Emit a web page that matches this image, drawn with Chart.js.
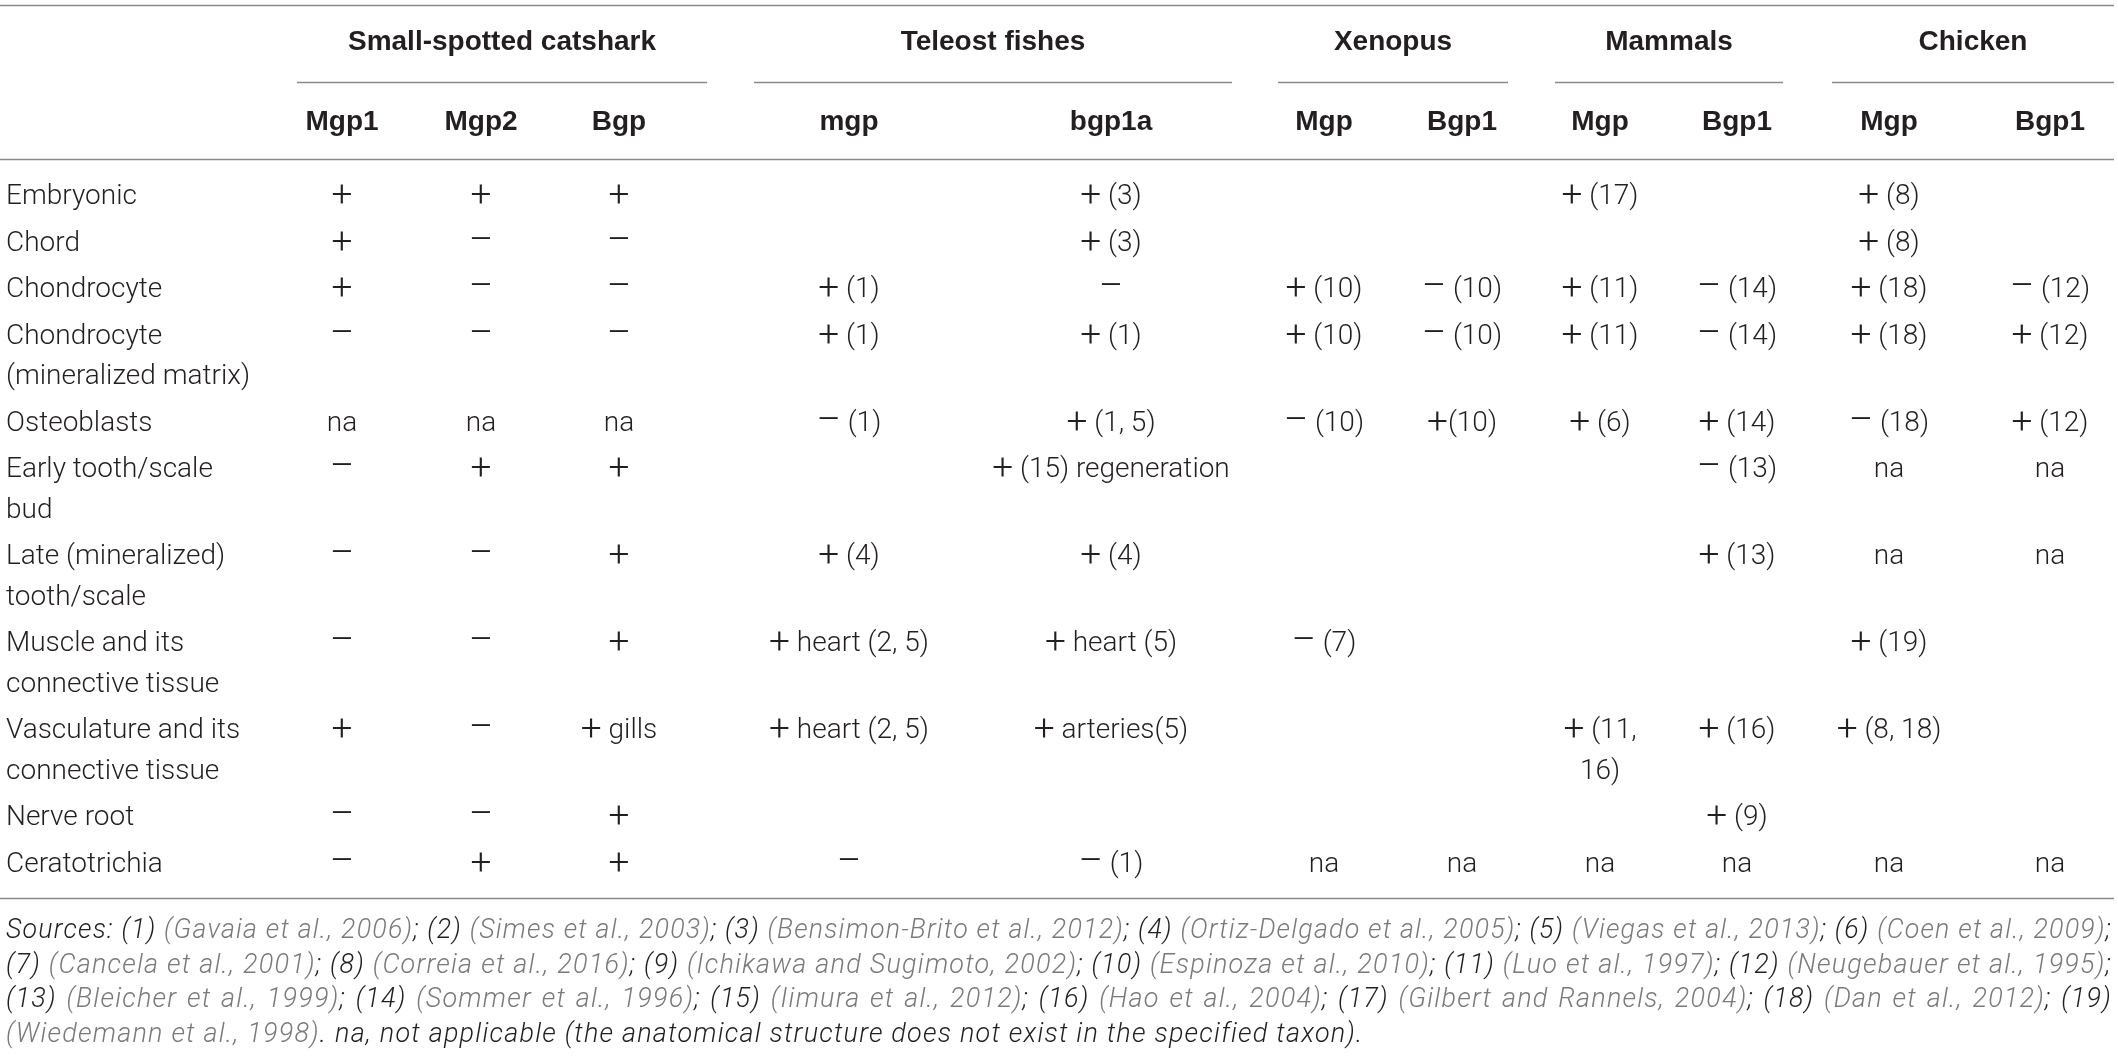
<!DOCTYPE html>
<html>
<head>
<meta charset="utf-8">
<script src="https://cdn.jsdelivr.net/npm/chart.js@4.4.1/dist/chart.umd.min.js"></script>
<style>
  html, body { margin: 0; padding: 0; background: #fff; }
  #wrap { width: 2118px; height: 1061px; position: relative; }
</style>
</head>
<body>
<div id="wrap"><canvas id="tbl"></canvas></div>
<script>
// ---- data ----
const groups = ['Small-spotted catshark', 'Teleost fishes', 'Xenopus', 'Mammals', 'Chicken'];
const genes = ['Mgp1', 'Mgp2', 'Bgp', 'mgp', 'bgp1a', 'Mgp', 'Bgp1', 'Mgp', 'Bgp1', 'Mgp', 'Bgp1'];
const geneGroup = [0, 0, 0, 1, 1, 2, 2, 3, 3, 4, 4];

const tissues = [
  'Embryonic',
  'Chord',
  'Chondrocyte',
  'Chondrocyte\n(mineralized matrix)',
  'Osteoblasts',
  'Early tooth/scale\nbud',
  'Late (mineralized)\ntooth/scale',
  'Muscle and its\nconnective tissue',
  'Vasculature and its\nconnective tissue',
  'Nerve root',
  'Ceratotrichia'
];

// one array per gene column, one entry per tissue row
const catsharkMgp1 = ['+', '+', '+', '–', 'na', '–', '–', '–', '+', '–', '–'];
const catsharkMgp2 = ['+', '–', '–', '–', 'na', '+', '–', '–', '–', '–', '+'];
const catsharkBgp  = ['+', '–', '–', '–', 'na', '+', '+', '+', '+ gills', '+', '+'];
const teleostMgp   = ['', '', '+ (1)', '+ (1)', '– (1)', '', '+ (4)', '+ heart (2, 5)', '+ heart (2, 5)', '', '–'];
const teleostBgp1a = ['+ (3)', '+ (3)', '–', '+ (1)', '+ (1, 5)', '+ (15) regeneration', '+ (4)', '+ heart (5)', '+ arteries(5)', '', '– (1)'];
const xenopusMgp   = ['', '', '+ (10)', '+ (10)', '– (10)', '', '', '– (7)', '', '', 'na'];
const xenopusBgp1  = ['', '', '– (10)', '– (10)', '+(10)', '', '', '', '', '', 'na'];
const mammalMgp    = ['+ (17)', '', '+ (11)', '+ (11)', '+ (6)', '', '', '', '+ (11,\n16)', '', 'na'];
const mammalBgp1   = ['', '', '– (14)', '– (14)', '+ (14)', '– (13)', '+ (13)', '', '+ (16)', '+ (9)', 'na'];
const chickenMgp   = ['+ (8)', '+ (8)', '+ (18)', '+ (18)', '– (18)', 'na', 'na', '+ (19)', '+ (8, 18)', '', 'na'];
const chickenBgp1  = ['', '', '– (12)', '+ (12)', '+ (12)', 'na', 'na', '', '', '', 'na'];

const columns = [catsharkMgp1, catsharkMgp2, catsharkBgp, teleostMgp, teleostBgp1a,
  xenopusMgp, xenopusBgp1, mammalMgp, mammalBgp1, chickenMgp, chickenBgp1];

const sourceRefs = [
  'Gavaia et al., 2006', 'Simes et al., 2003', 'Bensimon-Brito et al., 2012',
  'Ortiz-Delgado et al., 2005', 'Viegas et al., 2013', 'Coen et al., 2009',
  'Cancela et al., 2001', 'Correia et al., 2016', 'Ichikawa and Sugimoto, 2002',
  'Espinoza et al., 2010', 'Luo et al., 1997', 'Neugebauer et al., 1995',
  'Bleicher et al., 1999', 'Sommer et al., 1996', 'Iimura et al., 2012',
  'Hao et al., 2004', 'Gilbert and Rannels, 2004', 'Dan et al., 2012',
  'Wiedemann et al., 1998'
];
const sourceNote = 'na, not applicable (the anatomical structure does not exist in the specified taxon).';

// ---- layout (in scale units, one unit = one pixel of the 2118 x 1061 page) ----
const W = 2118, H = 1061;
const colX = [342, 481, 619, 849, 1111, 1324, 1462, 1600, 1737, 1889, 2050];
const groupSpan = [[297, 707], [754, 1232], [1278, 1508], [1555, 1783], [1832, 2114]];
const LABEL_X = 6;
const Y_TOP_RULE = 5, Y_GROUP = 42, Y_GROUP_RULE = 82, Y_GENE = 122, Y_HEAD_RULE = 159;
const Y_FIRST_ROW = 197, ROW_STEP = 46.5, LINE_STEP = 40.5, Y_BOTTOM_RULE = 898;
const Y_SOURCES = 931, SOURCE_STEP = 34.8, SOURCE_RIGHT = 2112;

const BODY_FONT = '300 28px Roboto';
const SIGN_FONT = '300 37px Roboto';     // the +/– marks are drawn larger, as in the print
const HEAD_FONT = 'bold 28px "Liberation Sans"';
const NOTE_FONT = 'italic 300 27px Roboto';
const NOTE_TRACKING = '1.2px';
const INK = '#231f20', GREY = '#7a7a7a', RULE = '#8a8a8a';
const SIGNS = '+–';

const rowY = [];
tissues.reduce((y, t) => { rowY.push(y); return y + ROW_STEP + (t.split('\n').length - 1) * LINE_STEP; }, Y_FIRST_ROW);

const cellPoints = [];
columns.forEach((col, c) => col.forEach((v, r) => {
  if (v) cellPoints.push({ x: colX[c], y: rowY[r], text: v });
}));
const labelPoints = tissues.map((t, r) => ({ x: LABEL_X, y: rowY[r], text: t }));
const genePoints = genes.map((g, c) => ({ x: colX[c], y: Y_GENE, text: g }));
const groupPoints = groups.map((g, i) => ({ x: (groupSpan[i][0] + groupSpan[i][1]) / 2, y: Y_GROUP, text: g }));

function textDataset(points, font, align, signs) {
  return { data: points, pointRadius: 0, pointHoverRadius: 0, textFont: font, textAlign: align, bigSigns: !!signs };
}

// split a line into runs so the +/– signs can take their own font
function runsOf(line) {
  const runs = [];
  for (const ch of line) {
    const sign = SIGNS.includes(ch);
    const last = runs[runs.length - 1];
    if (last && last.sign === sign) last.text += ch;
    else runs.push({ text: ch, sign });
  }
  return runs;
}

function drawLine(ctx, line, x, y, align, font, bigSigns) {
  if (!bigSigns) {
    ctx.font = font;
    ctx.textAlign = align;
    ctx.fillText(line, x, y);
    return;
  }
  const runs = runsOf(line);
  runs.forEach(r => { ctx.font = r.sign ? SIGN_FONT : font; r.w = ctx.measureText(r.text).width; });
  const total = runs.reduce((a, r) => a + r.w, 0);
  let px = align === 'center' ? x - total / 2 : x;
  ctx.textAlign = 'left';
  runs.forEach(r => {
    ctx.font = r.sign ? SIGN_FONT : font;
    const dy = r.sign && r.text.includes('–') ? -2 : 0;
    ctx.fillText(r.text, px, y + dy);
    px += r.w;
  });
}

// draws the text carried by each point at the pixel the scales give it
const tableText = {
  id: 'tableText',
  beforeDatasetsDraw(chart) {
    const { ctx, scales: { x, y } } = chart;
    ctx.save();
    ctx.strokeStyle = RULE;
    ctx.lineWidth = 1.6;
    const hline = (x0, x1, yy) => {
      const py = Math.round(y.getPixelForValue(yy)) + 0.5;
      ctx.beginPath();
      ctx.moveTo(x.getPixelForValue(x0), py);
      ctx.lineTo(x.getPixelForValue(x1), py);
      ctx.stroke();
    };
    hline(0, SOURCE_RIGHT + 2, Y_TOP_RULE);
    groupSpan.forEach(s => hline(s[0], s[1], Y_GROUP_RULE));
    hline(0, SOURCE_RIGHT + 2, Y_HEAD_RULE);
    hline(0, SOURCE_RIGHT + 2, Y_BOTTOM_RULE);
    ctx.restore();
  },
  afterDatasetsDraw(chart) {
    const { ctx } = chart;
    const lineStep = Math.abs(chart.scales.y.getPixelForValue(LINE_STEP) - chart.scales.y.getPixelForValue(0));
    ctx.save();
    ctx.fillStyle = INK;
    ctx.textBaseline = 'middle';
    chart.data.datasets.forEach((ds, i) => {
      const meta = chart.getDatasetMeta(i);
      meta.data.forEach((el, j) => {
        ds.data[j].text.split('\n').forEach((line, k) => {
          drawLine(ctx, line, el.x, el.y + k * lineStep, ds.textAlign, ds.textFont, ds.bigSigns);
        });
      });
    });
    drawSources(chart);
    ctx.restore();
  }
};

// the sources footnote: black numbers, grey citations, justified lines
function drawSources(chart) {
  const { ctx, scales: { x, y } } = chart;
  const lines = [[]];
  const push = (text, color) => lines[lines.length - 1].push({ text, color });
  push('Sources: ', INK);
  sourceRefs.forEach((ref, i) => {
    const n = i + 1;
    if (n === 7 || n === 13) lines.push([]);
    push('(' + n + ') ', INK);
    if (n === 19) lines.push([]);
    push('(' + ref + ')', GREY);
    push(n === 19 ? '. ' : '; ', INK);
  });
  push(sourceNote, INK);

  ctx.font = NOTE_FONT;
  ctx.textAlign = 'left';
  if ('letterSpacing' in ctx) ctx.letterSpacing = NOTE_TRACKING;
  const left = x.getPixelForValue(LABEL_X), right = x.getPixelForValue(SOURCE_RIGHT);
  lines.forEach((segs, li) => {
    const words = [];
    segs.forEach(s => s.text.split(' ').forEach((w, k) => {
      if (k > 0) words.push(null);
      if (w) words.push({ text: w, color: s.color });
    }));
    while (words.length && words[words.length - 1] === null) words.pop();
    const tokens = [];
    let cur = null;
    words.forEach(w => {
      if (w === null) { if (cur) tokens.push(cur); cur = null; }
      else { if (!cur) cur = []; cur.push(w); }
    });
    if (cur) tokens.push(cur);
    const space = ctx.measureText(' ').width;
    const widthOf = t => t.reduce((a, p) => a + ctx.measureText(p.text).width, 0);
    const natural = tokens.reduce((a, t) => a + widthOf(t), 0) + space * (tokens.length - 1);
    const justify = li < lines.length - 1;
    // squeeze a line horizontally if it would overrun the measure
    const sx = natural > right - left ? (right - left) / natural : 1;
    const gap = justify && sx === 1 ? space + (right - left - natural) / (tokens.length - 1) : space;
    const py = y.getPixelForValue(Y_SOURCES + li * SOURCE_STEP);
    ctx.save();
    ctx.translate(left, py);
    ctx.scale(sx, 1);
    let px = 0;
    tokens.forEach(t => {
      t.forEach(p => {
        ctx.fillStyle = p.color;
        ctx.fillText(p.text, px, 0);
        px += ctx.measureText(p.text).width;
      });
      px += gap;
    });
    ctx.restore();
  });
  if ('letterSpacing' in ctx) ctx.letterSpacing = '0px';
}

new Chart(document.getElementById('tbl'), {
  type: 'scatter',
  data: {
    datasets: [
      textDataset(groupPoints, HEAD_FONT, 'center'),
      textDataset(genePoints, HEAD_FONT, 'center'),
      textDataset(labelPoints, BODY_FONT, 'left'),
      textDataset(cellPoints, BODY_FONT, 'center', true)
    ]
  },
  options: {
    responsive: true,
    maintainAspectRatio: false,
    devicePixelRatio: 1,
    animation: false,
    events: [],
    layout: { padding: 0 },
    plugins: { legend: { display: false }, tooltip: { enabled: false } },
    scales: {
      x: { type: 'linear', min: 0, max: W, display: false },
      y: { type: 'linear', min: 0, max: H, reverse: true, display: false }
    }
  },
  plugins: [tableText]
});
</script>
</body>
</html>
